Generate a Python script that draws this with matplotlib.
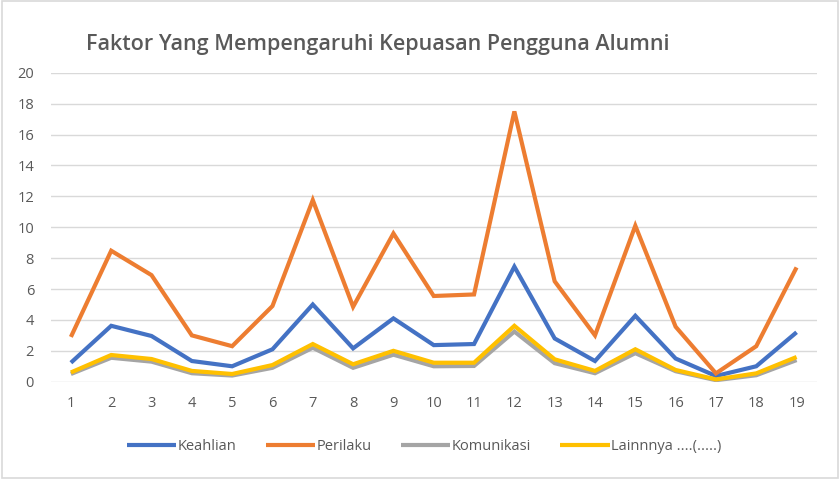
import matplotlib.pyplot as plt
from matplotlib.patches import Rectangle

# data
categories = list(range(1, 20))
keahlian = [1.23, 3.62, 2.96, 1.34, 1.0, 2.1, 5.0, 2.16, 4.1, 2.37,
            2.44, 7.45, 2.8, 1.34, 4.27, 1.5, 0.37, 1.0, 3.2]
perilaku = [2.9, 8.48, 6.9, 3.0, 2.3, 4.9, 11.76, 4.85, 9.6, 5.55,
            5.65, 17.5, 6.5, 3.0, 10.1, 3.56, 0.54, 2.3, 7.4]
komunikasi = [0.5, 1.55, 1.3, 0.55, 0.4, 0.9, 2.2, 0.9, 1.75, 1.0,
              1.02, 3.25, 1.2, 0.55, 1.85, 0.68, 0.1, 0.42, 1.4]
lainnya = [0.6, 1.73, 1.47, 0.7, 0.5, 1.08, 2.44, 1.13, 2.0, 1.23,
           1.23, 3.62, 1.45, 0.7, 2.1, 0.76, 0.15, 0.54, 1.6]

series = [
    ("Keahlian", keahlian, "#4472C4"),
    ("Perilaku", perilaku, "#ED7D31"),
    ("Komunikasi", komunikasi, "#A5A5A5"),
    ("Lainnnya ....(.....)", lainnya, "#FFC000"),
]

plt.rcParams['font.family'] = ['Open Sans', 'DejaVu Sans']
text_color = "#595959"

fig = plt.figure(figsize=(8.4, 4.79), dpi=100)
ax = fig.add_axes([0.0604, 0.2031, 0.9119, 0.6449])

for name, vals, col in series:
    ax.plot(categories, vals, color=col, linewidth=3, label=name,
            solid_joinstyle='miter', solid_capstyle='butt')

ax.set_xlim(0.5, 19.5)
ax.set_ylim(0, 20)
ax.set_yticks(range(0, 21, 2))
ax.set_xticks(categories)
ax.grid(axis='y', color='#D9D9D9', linewidth=1)
ax.set_axisbelow(True)
for s in ax.spines.values():
    s.set_visible(False)
ax.tick_params(length=0, colors=text_color, labelsize=10.5)
ax.tick_params(axis='x', pad=10)
ax.tick_params(axis='y', pad=12)

fig.text(0.450, 0.908, "Faktor Yang Mempengaruhi Kepuasan Pengguna Alumni",
         ha='center', va='center', fontsize=15.5, fontweight='semibold',
         color=text_color)

leg = fig.legend(loc='center', bbox_to_anchor=(0.505, 0.067), ncol=4,
                 frameon=False, fontsize=10.5, handlelength=3.4,
                 handletextpad=0.1, columnspacing=2.0)
for t in leg.get_texts():
    t.set_color(text_color)

fig.patches.append(Rectangle((0.002, 0.003), 0.996, 0.994, transform=fig.transFigure,
                             fill=False, edgecolor='#D9D9D9', linewidth=1.2))

fig.savefig("out.png", dpi=100)
